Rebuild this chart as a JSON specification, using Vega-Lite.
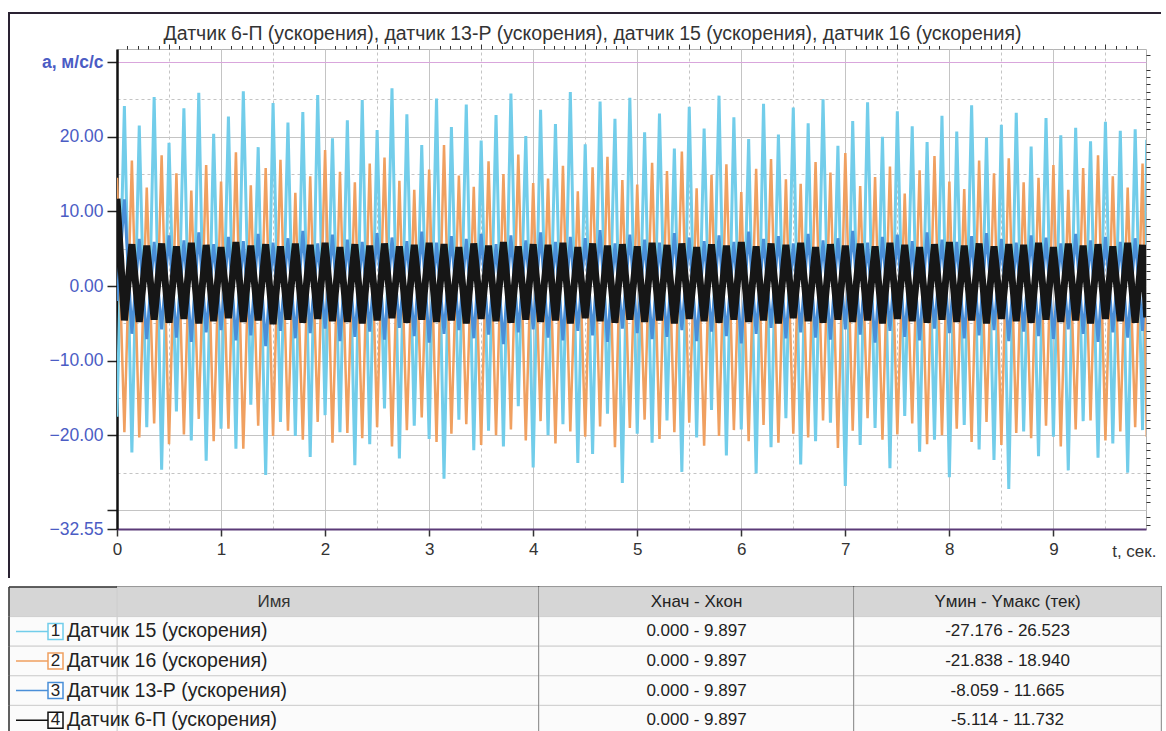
{
  "$schema": "https://vega.github.io/schema/vega-lite/v6.json",
  "padding": {"left": 4, "top": 8, "right": 0, "bottom": 0},
  "background": "#ffffff",
  "config": {"font": "Liberation Sans", "view": {"stroke": null}},
  "datasets": {
    "sig": [
      {"t":0,"s15":-17.5,"s16":14.5,"s13":-2.0,"s6":11.7},
      {"t":0.071,"s15":24.1,"s16":-19.6,"s13":11.6,"s6":-4.6},
      {"t":0.143,"s15":-22.3,"s16":16.8,"s13":-6.4,"s6":5.6},
      {"t":0.214,"s15":21.5,"s16":-20.3,"s13":6.3,"s6":-4.8},
      {"t":0.286,"s15":-18.9,"s16":13.2,"s13":-7.1,"s6":5.4},
      {"t":0.357,"s15":25.3,"s16":-18.4,"s13":5.9,"s6":-4.5},
      {"t":0.429,"s15":-24.6,"s16":17.5,"s13":-5.8,"s6":5.7},
      {"t":0.5,"s15":19.2,"s16":-21.2,"s13":6.8,"s6":-4.9},
      {"t":0.571,"s15":-16.8,"s16":15.1,"s13":-6.9,"s6":5.3},
      {"t":0.643,"s15":23.8,"s16":-19.9,"s13":6.1,"s6":-4.4},
      {"t":0.714,"s15":-20.7,"s16":12.8,"s13":-7.5,"s6":5.8},
      {"t":0.786,"s15":25.9,"s16":-17.8,"s13":7.2,"s6":-5.0},
      {"t":0.857,"s15":-23.4,"s16":16.2,"s13":-6.2,"s6":5.5},
      {"t":0.929,"s15":20.4,"s16":-20.8,"s13":5.6,"s6":-4.7},
      {"t":1,"s15":-19.1,"s16":14.0,"s13":-5.9,"s6":5.2},
      {"t":1.071,"s15":22.7,"s16":-19.1,"s13":6.6,"s6":-4.3},
      {"t":1.143,"s15":-21.8,"s16":17.9,"s13":-7.3,"s6":5.9},
      {"t":1.214,"s15":26.1,"s16":-21.8,"s13":6.0,"s6":-4.8},
      {"t":1.286,"s15":-15.9,"s16":13.5,"s13":-6.6,"s6":5.4},
      {"t":1.357,"s15":18.6,"s16":-18.7,"s13":7.0,"s6":-4.6},
      {"t":1.429,"s15":-25.3,"s16":15.8,"s13":-8.06,"s6":5.6},
      {"t":1.5,"s15":24.5,"s16":-20.1,"s13":5.8,"s6":-5.1},
      {"t":1.571,"s15":-18.2,"s16":16.9,"s13":-6.0,"s6":5.3},
      {"t":1.643,"s15":21.9,"s16":-19.4,"s13":6.4,"s6":-4.5},
      {"t":1.714,"s15":-20.1,"s16":12.5,"s13":-7.0,"s6":5.7},
      {"t":1.786,"s15":23.3,"s16":-20.6,"s13":7.4,"s6":-4.9},
      {"t":1.857,"s15":-22.9,"s16":14.7,"s13":-6.3,"s6":5.5},
      {"t":1.929,"s15":25.6,"s16":-18.2,"s13":5.7,"s6":-4.4},
      {"t":2,"s15":-17.3,"s16":18.2,"s13":-5.7,"s6":5.8},
      {"t":2.071,"s15":19.8,"s16":-21.0,"s13":6.9,"s6":-4.7},
      {"t":2.143,"s15":-19.6,"s16":15.3,"s13":-7.4,"s6":5.2},
      {"t":2.214,"s15":22.2,"s16":-19.7,"s13":6.2,"s6":-4.8},
      {"t":2.286,"s15":-24.0,"s16":13.9,"s13":-6.8,"s6":5.6},
      {"t":2.357,"s15":24.9,"s16":-20.4,"s13":5.9,"s6":-5.0},
      {"t":2.429,"s15":-21.2,"s16":16.4,"s13":-6.1,"s6":5.4},
      {"t":2.5,"s15":20.9,"s16":-18.9,"s13":7.1,"s6":-4.6},
      {"t":2.571,"s15":-16.4,"s16":17.2,"s13":-7.2,"s6":5.7},
      {"t":2.643,"s15":26.5,"s16":-21.5,"s13":6.5,"s6":-4.3},
      {"t":2.714,"s15":-23.1,"s16":14.1,"s13":-5.6,"s6":5.3},
      {"t":2.786,"s15":23.0,"s16":-19.3,"s13":6.0,"s6":-4.9},
      {"t":2.857,"s15":-18.7,"s16":12.9,"s13":-6.7,"s6":5.5},
      {"t":2.929,"s15":18.9,"s16":-17.6,"s13":7.3,"s6":-4.5},
      {"t":3,"s15":-20.5,"s16":15.6,"s13":-7.6,"s6":5.8},
      {"t":3.071,"s15":25.1,"s16":-20.9,"s13":5.8,"s6":-4.8},
      {"t":3.143,"s15":-25.8,"s16":18.9,"s13":-6.4,"s6":5.6},
      {"t":3.214,"s15":21.3,"s16":-19.8,"s13":6.7,"s6":-4.6},
      {"t":3.286,"s15":-17.9,"s16":14.8,"s13":-5.9,"s6":5.2},
      {"t":3.357,"s15":24.3,"s16":-18.5,"s13":6.3,"s6":-5.0},
      {"t":3.429,"s15":-22.0,"s16":13.3,"s13":-7.0,"s6":5.7},
      {"t":3.5,"s15":19.5,"s16":-21.3,"s13":7.0,"s6":-4.4},
      {"t":3.571,"s15":-19.4,"s16":16.7,"s13":-6.5,"s6":5.4},
      {"t":3.643,"s15":22.9,"s16":-20.0,"s13":5.6,"s6":-4.7},
      {"t":3.714,"s15":-21.5,"s16":15.0,"s13":-7.8,"s6":5.9},
      {"t":3.786,"s15":25.8,"s16":-19.2,"s13":6.8,"s6":-4.9},
      {"t":3.857,"s15":-16.1,"s16":17.6,"s13":-6.2,"s6":5.3},
      {"t":3.929,"s15":20.1,"s16":-20.7,"s13":6.1,"s6":-4.5},
      {"t":4,"s15":-24.3,"s16":13.8,"s13":-5.8,"s6":5.6},
      {"t":4.071,"s15":23.6,"s16":-18.1,"s13":7.2,"s6":-4.8},
      {"t":4.143,"s15":-20.0,"s16":14.4,"s13":-6.9,"s6":5.5},
      {"t":4.214,"s15":21.7,"s16":-21.1,"s13":5.9,"s6":-4.6},
      {"t":4.286,"s15":-18.5,"s16":16.1,"s13":-7.3,"s6":5.8},
      {"t":4.357,"s15":26.0,"s16":-19.5,"s13":6.6,"s6":-5.0},
      {"t":4.429,"s15":-23.7,"s16":12.7,"s13":-6.0,"s6":5.2},
      {"t":4.5,"s15":19.0,"s16":-20.2,"s13":6.4,"s6":-4.3},
      {"t":4.571,"s15":-22.5,"s16":15.9,"s13":-6.6,"s6":5.7},
      {"t":4.643,"s15":24.7,"s16":-18.8,"s13":7.5,"s6":-4.7},
      {"t":4.714,"s15":-17.1,"s16":17.3,"s13":-7.5,"s6":5.4},
      {"t":4.786,"s15":22.4,"s16":-21.6,"s13":5.7,"s6":-4.9},
      {"t":4.857,"s15":-26.4,"s16":14.2,"s13":-5.7,"s6":5.6},
      {"t":4.929,"s15":25.2,"s16":-19.0,"s13":6.9,"s6":-4.5},
      {"t":5,"s15":-19.8,"s16":13.6,"s13":-6.3,"s6":5.3},
      {"t":5.071,"s15":20.6,"s16":-17.9,"s13":6.2,"s6":-4.8},
      {"t":5.143,"s15":-21.0,"s16":16.5,"s13":-7.1,"s6":5.8},
      {"t":5.214,"s15":23.1,"s16":-20.5,"s13":5.8,"s6":-4.6},
      {"t":5.286,"s15":-18.0,"s16":15.4,"s13":-6.8,"s6":5.5},
      {"t":5.357,"s15":18.4,"s16":-19.6,"s13":7.1,"s6":-5.0},
      {"t":5.429,"s15":-24.9,"s16":18.0,"s13":-5.9,"s6":5.7},
      {"t":5.5,"s15":24.0,"s16":-18.3,"s13":6.5,"s6":-4.4},
      {"t":5.571,"s15":-20.3,"s16":13.1,"s13":-7.4,"s6":5.2},
      {"t":5.643,"s15":21.1,"s16":-21.4,"s13":6.0,"s6":-4.7},
      {"t":5.714,"s15":-16.6,"s16":14.9,"s13":-6.1,"s6":5.6},
      {"t":5.786,"s15":25.5,"s16":-20.1,"s13":6.8,"s6":-4.9},
      {"t":5.857,"s15":-22.7,"s16":16.3,"s13":-6.7,"s6":5.4},
      {"t":5.929,"s15":22.6,"s16":-19.3,"s13":5.9,"s6":-4.5},
      {"t":6,"s15":-19.2,"s16":12.6,"s13":-7.7,"s6":5.9},
      {"t":6.071,"s15":19.7,"s16":-20.8,"s13":7.3,"s6":-4.8},
      {"t":6.143,"s15":-25.1,"s16":15.7,"s13":-6.4,"s6":5.3},
      {"t":6.214,"s15":24.4,"s16":-18.6,"s13":6.3,"s6":-4.6},
      {"t":6.286,"s15":-21.6,"s16":17.0,"s13":-5.6,"s6":5.7},
      {"t":6.357,"s15":20.3,"s16":-21.0,"s13":6.7,"s6":-5.0},
      {"t":6.429,"s15":-17.7,"s16":14.3,"s13":-7.0,"s6":5.5},
      {"t":6.5,"s15":23.9,"s16":-19.8,"s13":5.7,"s6":-4.3},
      {"t":6.571,"s15":-23.9,"s16":13.7,"s13":-6.2,"s6":5.8},
      {"t":6.643,"s15":21.8,"s16":-20.3,"s13":7.0,"s6":-4.7},
      {"t":6.714,"s15":-20.8,"s16":16.6,"s13":-6.9,"s6":5.2},
      {"t":6.786,"s15":25.0,"s16":-18.0,"s13":6.1,"s6":-4.9},
      {"t":6.857,"s15":-18.3,"s16":15.2,"s13":-7.2,"s6":5.6},
      {"t":6.929,"s15":18.8,"s16":-21.7,"s13":6.4,"s6":-4.5},
      {"t":7,"s15":-26.8,"s16":17.8,"s13":-5.8,"s6":5.4},
      {"t":7.071,"s15":22.1,"s16":-19.4,"s13":7.4,"s6":-4.8},
      {"t":7.143,"s15":-21.3,"s16":13.4,"s13":-6.5,"s6":5.7},
      {"t":7.214,"s15":24.6,"s16":-17.7,"s13":5.8,"s6":-4.6},
      {"t":7.286,"s15":-19.0,"s16":14.6,"s13":-7.6,"s6":5.3},
      {"t":7.357,"s15":20.0,"s16":-20.6,"s13":6.6,"s6":-5.0},
      {"t":7.429,"s15":-24.4,"s16":16.0,"s13":-6.0,"s6":5.8},
      {"t":7.5,"s15":23.4,"s16":-19.9,"s13":6.9,"s6":-4.4},
      {"t":7.571,"s15":-17.4,"s16":12.4,"s13":-6.8,"s6":5.5},
      {"t":7.643,"s15":21.4,"s16":-18.4,"s13":6.0,"s6":-4.7},
      {"t":7.714,"s15":-22.2,"s16":15.5,"s13":-7.3,"s6":5.2},
      {"t":7.786,"s15":19.3,"s16":-21.2,"s13":7.2,"s6":-4.9},
      {"t":7.857,"s15":-20.6,"s16":17.4,"s13":-5.7,"s6":5.6},
      {"t":7.929,"s15":22.8,"s16":-20.0,"s13":6.2,"s6":-4.5},
      {"t":8,"s15":-25.6,"s16":14.0,"s13":-6.3,"s6":5.9},
      {"t":8.071,"s15":20.7,"s16":-19.1,"s13":5.9,"s6":-4.8},
      {"t":8.143,"s15":-18.6,"s16":13.0,"s13":-7.0,"s6":5.4},
      {"t":8.214,"s15":24.2,"s16":-20.9,"s13":6.7,"s6":-4.6},
      {"t":8.286,"s15":-21.9,"s16":16.8,"s13":-6.6,"s6":5.7},
      {"t":8.357,"s15":19.9,"s16":-18.2,"s13":7.1,"s6":-5.0},
      {"t":8.429,"s15":-23.3,"s16":15.1,"s13":-5.9,"s6":5.3},
      {"t":8.5,"s15":21.6,"s16":-21.3,"s13":6.3,"s6":-4.4},
      {"t":8.571,"s15":-27.2,"s16":17.1,"s13":-7.4,"s6":5.6},
      {"t":8.643,"s15":23.2,"s16":-19.7,"s13":5.8,"s6":-4.7},
      {"t":8.714,"s15":-19.5,"s16":13.9,"s13":-6.1,"s6":5.5},
      {"t":8.786,"s15":18.7,"s16":-20.4,"s13":6.8,"s6":-4.9},
      {"t":8.857,"s15":-22.8,"s16":14.5,"s13":-6.7,"s6":5.8},
      {"t":8.929,"s15":22.5,"s16":-18.7,"s13":6.5,"s6":-4.5},
      {"t":9,"s15":-20.2,"s16":16.2,"s13":-7.1,"s6":5.2},
      {"t":9.071,"s15":20.2,"s16":-21.5,"s13":5.7,"s6":-4.8},
      {"t":9.143,"s15":-24.7,"s16":12.9,"s13":-5.8,"s6":5.7},
      {"t":9.214,"s15":21.2,"s16":-19.2,"s13":7.0,"s6":-4.6},
      {"t":9.286,"s15":-18.1,"s16":15.8,"s13":-6.4,"s6":5.4},
      {"t":9.357,"s15":19.4,"s16":-18.0,"s13":6.1,"s6":-5.0},
      {"t":9.429,"s15":-23.0,"s16":17.5,"s13":-7.5,"s6":5.6},
      {"t":9.5,"s15":22.0,"s16":-20.7,"s13":6.6,"s6":-4.4},
      {"t":9.571,"s15":-21.1,"s16":14.7,"s13":-6.2,"s6":5.3},
      {"t":9.643,"s15":20.8,"s16":-19.5,"s13":5.9,"s6":-4.7},
      {"t":9.714,"s15":-25.0,"s16":13.2,"s13":-6.9,"s6":5.8},
      {"t":9.786,"s15":21.0,"s16":-18.9,"s13":6.4,"s6":-4.9},
      {"t":9.857,"s15":-19.3,"s16":16.4,"s13":-6.0,"s6":5.5},
      {"t":9.897,"s15":19.6,"s16":-20.2,"s13":5.2,"s6":-4.2}
    ],
    "tbl": [
      {"r":"0","n":"","name":"Имя","xr":"Xнач - Xкон","yr":"Yмин - Yмакс (тек)","s":"h"},
      {"r":"1","n":"1","name":"Датчик 15 (ускорения)","xr":"0.000 - 9.897","yr":"-27.176 - 26.523","s":"s15"},
      {"r":"2","n":"2","name":"Датчик 16 (ускорения)","xr":"0.000 - 9.897","yr":"-21.838 - 18.940","s":"s16"},
      {"r":"3","n":"3","name":"Датчик 13-Р (ускорения)","xr":"0.000 - 9.897","yr":"-8.059 - 11.665","s":"s13"},
      {"r":"4","n":"4","name":"Датчик 6-П (ускорения)","xr":"0.000 - 9.897","yr":"-5.114 - 11.732","s":"s6"}
    ]
  },
  "spacing": 0,
  "vconcat": [
    {
      "width": 1029,
      "height": 480,
      "data": {"name": "sig"},
      "title": {"text": "Датчик 6-П (ускорения), датчик 13-Р (ускорения), датчик 15 (ускорения), датчик 16 (ускорения)", "fontSize": 19.5, "fontWeight": "normal", "color": "#333333", "frame": "group", "anchor": "middle", "dx": -39, "dy": 35, "offset": 0},
      "view": {"stroke": "#b4b4b4"},
      "layer": [
        {
          "mark": {"type": "line", "color": "#72cdea", "strokeWidth": 3, "clip": true},
          "encoding": {
            "x": {"field": "t", "type": "quantitative", "scale": {"domain": [0, 9.89], "nice": false, "zero": false},
              "axis": {"values": [0,1,2,3,4,5,6,7,8,9], "format": "d", "title": "t, сек.", "titleX": 1039, "titleY": 22, "titleAlign": "right", "titleBaseline": "middle", "titleFontSize": 17, "titleFontWeight": "normal", "titleColor": "#333333", "labelFontSize": 17, "labelColor": "#333333", "labelPadding": 5, "labelFlush": false, "tickSize": 7, "tickColor": "#333333", "tickWidth": 1.5, "domainColor": "#5b3a78", "domainWidth": 2, "grid": true, "gridColor": "#c4c4c4", "gridWidth": 1}},
            "y": {"field": "s15", "type": "quantitative", "scale": {"domain": [-32.55, 31.75], "nice": false, "zero": false},
              "axis": {"values": [-32.55,-30,-20,-10,0,10,20,30], "labelExpr": "datum.value == 30 ? 'a, м/с/с' : (datum.value == -30 ? '' : format(datum.value, '.2f'))", "labelColor": "#4b5cc4", "labelFontSize": 17.5, "labelFontWeight": {"condition": {"test": "datum.value == 30", "value": "bold"}, "value": "normal"}, "labelOverlap": false, "labelPadding": 4, "tickSize": 10, "tickColor": "#222222", "tickWidth": 1.5, "domainColor": "#111111", "domainWidth": 2.5, "grid": true, "gridColor": {"condition": {"test": "datum.value == 30", "value": "#d9a6dc"}, "value": "#c4c4c4"}, "title": null}}
          }
        },
        {
          "mark": {"type": "line", "color": "#f0a060", "strokeWidth": 2.5, "clip": true},
          "encoding": {
            "x": {"field": "t", "type": "quantitative", "axis": {"values": [0.5,1.5,2.5,3.5,4.5,5.5,6.5,7.5,8.5,9.5], "labels": false, "domain": false, "ticks": true, "tickSize": 5, "tickColor": "#333333", "grid": true, "gridDash": [3, 3], "gridColor": "#c4c4c4", "title": null}},
            "y": {"field": "s16", "type": "quantitative", "axis": {"values": [-25,-15,-5,5,15,25], "labels": false, "domain": false, "ticks": false, "grid": true, "gridDash": [3, 3], "gridColor": "#c4c4c4", "title": null}}
          }
        },
        {
          "mark": {"type": "line", "color": "#4a8fd8", "strokeWidth": 3, "clip": true},
          "encoding": {
            "x": {"field": "t", "type": "quantitative", "axis": {"values": [0.1,0.2,0.3,0.4,0.6,0.7,0.8,0.9,1.1,1.2,1.3,1.4,1.6,1.7,1.8,1.9,2.1,2.2,2.3,2.4,2.6,2.7,2.8,2.9,3.1,3.2,3.3,3.4,3.6,3.7,3.8,3.9,4.1,4.2,4.3,4.4,4.6,4.7,4.8,4.9,5.1,5.2,5.3,5.4,5.6,5.7,5.8,5.9,6.1,6.2,6.3,6.4,6.6,6.7,6.8,6.9,7.1,7.2,7.3,7.4,7.6,7.7,7.8,7.9,8.1,8.2,8.3,8.4,8.6,8.7,8.8,8.9,9.1,9.2,9.3,9.4,9.6,9.7,9.8], "labels": false, "domain": false, "ticks": true, "tickSize": 3.5, "tickColor": "#333333", "grid": false, "title": null}},
            "y": {"field": "s13", "type": "quantitative", "axis": {"values": [-32,-31,-29,-28,-27,-26,-25,-24,-23,-22,-21,-19,-18,-17,-16,-15,-14,-13,-12,-11,-9,-8,-7,-6,-5,-4,-3,-2,-1,1,2,3,4,5,6,7,8,9,11,12,13,14,15,16,17,18,19,21,22,23,24,25,26,27,28,29,31], "labels": false, "domain": false, "ticks": true, "tickSize": 4, "tickColor": "#333333", "grid": false, "title": null}}
          }
        },
        {
          "mark": {"type": "line", "color": "#161616", "strokeWidth": 7, "clip": true},
          "encoding": {
            "x": {"field": "t", "type": "quantitative", "axis": null},
            "y": {"field": "s6", "type": "quantitative", "axis": null}
          }
        },
        {
          "transform": [{"filter": "datum.t == 0"}],
          "mark": {"type": "point", "shape": "M-108,529V-36H1044", "size": 4, "filled": false, "stroke": "#2a2232", "strokeWidth": 2, "opacity": 1},
          "encoding": {"x": {"value": 0}, "y": {"value": 0}}
        }
      ],
      "resolve": {"axis": {"x": "independent", "y": "independent"}}
    },
    {
      "spacing": 0,
      "bounds": "flush",
      "hconcat": [
        {
          "width": 422,
          "height": 148,
          "data": {"name": "tbl"},
          "view": {"stroke": "#333333", "strokeWidth": 1.5},
          "encoding": {"y": {"field": "r", "type": "ordinal", "axis": null, "scale": {"paddingInner": 0, "paddingOuter": 0}}},
          "layer": [
            {"mark": {"type": "rect", "stroke": "#cfcfcf", "strokeWidth": 1}, "encoding": {"fill": {"condition": {"test": "datum.r == '0'", "value": "#d6d6d6"}, "value": "#fbfbfb"}}},
            {"mark": {"type": "point", "shape": "M-108,-14.8H0V14.8H-108Z", "size": 4, "filled": true, "stroke": "#cfcfcf", "strokeWidth": 1, "opacity": 1}, "encoding": {"x": {"value": 0}, "fill": {"condition": {"test": "datum.r == '0'", "value": "#d6d6d6"}, "value": "#fbfbfb"}}},
            {"mark": {"type": "point", "shape": "M-108,-14.8V14.8", "size": 4, "filled": false, "stroke": "#333333", "strokeWidth": 1.5, "opacity": 1}, "encoding": {"x": {"value": 0}}},
            {"transform": [{"filter": "datum.r == '0'"}], "mark": {"type": "point", "shape": "M-108,-14.8H0", "size": 4, "filled": false, "stroke": "#333333", "strokeWidth": 1.5, "opacity": 1}, "encoding": {"x": {"value": 0}}},
            {"transform": [{"filter": "datum.r == '0'"}], "mark": {"type": "text", "fontSize": 17, "dx": -54, "color": "#333333"}, "encoding": {"text": {"field": "name"}}},
            {"transform": [{"filter": "datum.r != '0'"}], "mark": {"type": "point", "shape": "M-101,0H-69M-69,-8H-54V8H-69Z", "size": 4, "filled": true, "fill": "#ffffff", "strokeWidth": 1.5, "opacity": 1}, "encoding": {"x": {"value": 0}, "stroke": {"field": "s", "type": "nominal", "scale": {"domain": ["s15","s16","s13","s6"], "range": ["#72cdea","#f0a060","#4a8fd8","#111111"]}, "legend": null}}},
            {"transform": [{"filter": "datum.r != '0'"}], "mark": {"type": "text", "fontSize": 17, "dx": -61.5, "align": "center", "color": "#222222"}, "encoding": {"x": {"value": 0}, "text": {"field": "n"}}},
            {"transform": [{"filter": "datum.r != '0'"}], "mark": {"type": "text", "fontSize": 19.5, "dx": -50, "align": "left", "color": "#222222"}, "encoding": {"x": {"value": 0}, "text": {"field": "name"}}}
          ]
        },
        {
          "width": 315,
          "height": 148,
          "data": {"name": "tbl"},
          "view": {"stroke": "#333333", "strokeWidth": 1.5},
          "encoding": {"y": {"field": "r", "type": "ordinal", "axis": null, "scale": {"paddingInner": 0, "paddingOuter": 0}}},
          "layer": [
            {"mark": {"type": "rect", "stroke": "#cfcfcf", "strokeWidth": 1}, "encoding": {"fill": {"condition": {"test": "datum.r == '0'", "value": "#d6d6d6"}, "value": "#fbfbfb"}}},
            {"mark": {"type": "text", "fontSize": 17, "color": "#222222"}, "encoding": {"text": {"field": "xr"}}}
          ]
        },
        {
          "width": 307,
          "height": 148,
          "data": {"name": "tbl"},
          "view": {"stroke": "#333333", "strokeWidth": 1.5},
          "encoding": {"y": {"field": "r", "type": "ordinal", "axis": null, "scale": {"paddingInner": 0, "paddingOuter": 0}}},
          "layer": [
            {"mark": {"type": "rect", "stroke": "#cfcfcf", "strokeWidth": 1}, "encoding": {"fill": {"condition": {"test": "datum.r == '0'", "value": "#d6d6d6"}, "value": "#fbfbfb"}}},
            {"mark": {"type": "text", "fontSize": 17, "color": "#222222"}, "encoding": {"text": {"field": "yr"}}}
          ]
        }
      ]
    }
  ]
}
